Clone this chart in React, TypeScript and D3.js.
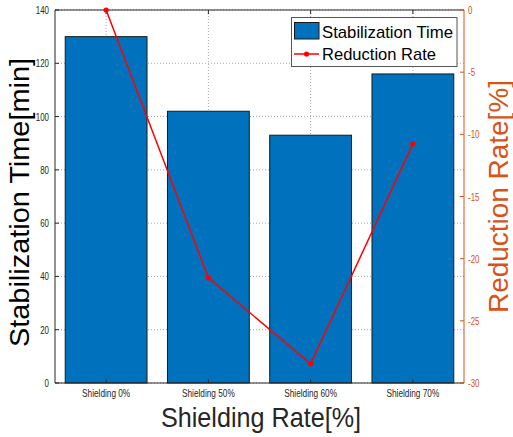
import React from "react";
import * as d3 from "d3";

const categories = ["Shielding 0%", "Shielding 50%", "Shielding 60%", "Shielding 70%"];
const stabilizationTime = [130, 102, 93, 116];
const reductionRate = [0, -21.54, -28.46, -10.77];
const leftTicks = [0, 20, 40, 60, 80, 100, 120, 140];
const rightTicks = [-30, -25, -20, -15, -10, -5, 0];

const W = 513, H = 437;
const L = 55, R = 464, T = 10, B = 383;
const ORANGE = "#D95319";
const AX = "#262626";
const FONT = "'Liberation Sans', Arial, sans-serif";

export default function App() {
  const x = d3.scaleBand<string>().domain(categories).range([L, R]).paddingInner(0.2).paddingOuter(0.1);
  const yL = d3.scaleLinear().domain([0, 140]).range([B, T]);
  const yR = d3.scaleLinear().domain([-30, 0]).range([B, T]);
  const cx = (c: string) => (x(c) as number) + x.bandwidth() / 2;
  const line = d3.line<number>().x((_, i) => cx(categories[i])).y((d) => yR(d));

  return (
    <svg width={W} height={H} style={{ position: "absolute", left: 0, top: 0, fontFamily: FONT }}>
      <rect x={0} y={0} width={W} height={H} fill="#fff" />
      {/* grid */}
      {leftTicks.map((t) => (
        <line key={"gh" + t} x1={L} x2={R} y1={yL(t)} y2={yL(t)} stroke="#a8a8a8" strokeWidth={1} strokeDasharray="1,2" />
      ))}
      {categories.map((c) => (
        <line key={"gv" + c} x1={cx(c)} x2={cx(c)} y1={T} y2={B} stroke="#a8a8a8" strokeWidth={1} strokeDasharray="1,2" />
      ))}
      {/* bars */}
      {categories.map((c, i) => (
        <rect key={"b" + c} x={x(c)} y={yL(stabilizationTime[i])} width={x.bandwidth()} height={B - yL(stabilizationTime[i])}
          fill="#0072BD" stroke="#1a1a1a" strokeWidth={1} />
      ))}
      {/* axes box */}
      <line x1={L} x2={R} y1={T} y2={T} stroke={AX} strokeWidth={1} />
      <line x1={L} x2={R} y1={B} y2={B} stroke={AX} strokeWidth={1} />
      <line x1={L} x2={L} y1={T} y2={B} stroke={AX} strokeWidth={1} />
      <line x1={R} x2={R} y1={T} y2={B} stroke={ORANGE} strokeWidth={1} />
      {/* left ticks */}
      {leftTicks.map((t) => (
        <g key={"lt" + t}>
          <line x1={L} x2={L + 4} y1={yL(t)} y2={yL(t)} stroke={AX} />
          <text transform={`translate(${L - 6},${yL(t) + 4}) scale(0.72,1)`} textAnchor="end" fontSize={11} fill={AX}>{t}</text>
        </g>
      ))}
      {/* right ticks */}
      {rightTicks.map((t) => (
        <g key={"rt" + t}>
          <line x1={R - 4} x2={R} y1={yR(t)} y2={yR(t)} stroke={ORANGE} />
          <text transform={`translate(${R + 4},${yR(t) + 4}) scale(0.72,1)`} textAnchor="start" fontSize={11} fill={ORANGE}>{t}</text>
        </g>
      ))}
      {/* x ticks */}
      {categories.map((c) => (
        <g key={"xt" + c}>
          <line x1={cx(c)} x2={cx(c)} y1={B} y2={B - 4} stroke={AX} />
          <line x1={cx(c)} x2={cx(c)} y1={T} y2={T + 4} stroke={AX} />
          <text transform={`translate(${cx(c)},${B + 14}) scale(0.75,1)`} textAnchor="middle" fontSize={11} fill={AX}>{c}</text>
        </g>
      ))}
      {/* line series */}
      <path d={line(reductionRate) || ""} fill="none" stroke="#ff0000" strokeWidth={1.5} />
      {reductionRate.map((v, i) => (
        <circle key={"m" + i} cx={cx(categories[i])} cy={yR(v)} r={2.6} fill="#ff0000" />
      ))}
      {/* axis labels */}
      <text transform={`translate(28.5,202.5) rotate(-90)`} textAnchor="middle" fontSize={28} fill="#000"
        textLength={289} lengthAdjust="spacingAndGlyphs">Stabilization Time[min]</text>
      <text transform={`translate(508,196.5) rotate(-90)`} textAnchor="middle" fontSize={27} fill={ORANGE}
        textLength={233} lengthAdjust="spacingAndGlyphs">Reduction Rate[%]</text>
      <text x={261} y={427} textAnchor="middle" fontSize={28} fill={AX}
        textLength={200} lengthAdjust="spacingAndGlyphs">Shielding Rate[%]</text>
      {/* legend */}
      <g>
        <rect x={291.5} y={17.5} width={165.5} height={49} fill="#fff" stroke="#555" strokeWidth={1} />
        <rect x={294.5} y={22.5} width={24.5} height={16.5} fill="#0072BD" stroke="#1a1a1a" strokeWidth={1} />
        <text x={322} y={38} fontSize={17} fill="#000" textLength={131} lengthAdjust="spacingAndGlyphs">Stabilization Time</text>
        <line x1={294} x2={319} y1={54} y2={54} stroke="#ff0000" strokeWidth={1.5} />
        <circle cx={306.5} cy={54} r={2.6} fill="#ff0000" />
        <text x={322} y={60} fontSize={17} fill="#000" textLength={114} lengthAdjust="spacingAndGlyphs">Reduction Rate</text>
      </g>
    </svg>
  );
}
